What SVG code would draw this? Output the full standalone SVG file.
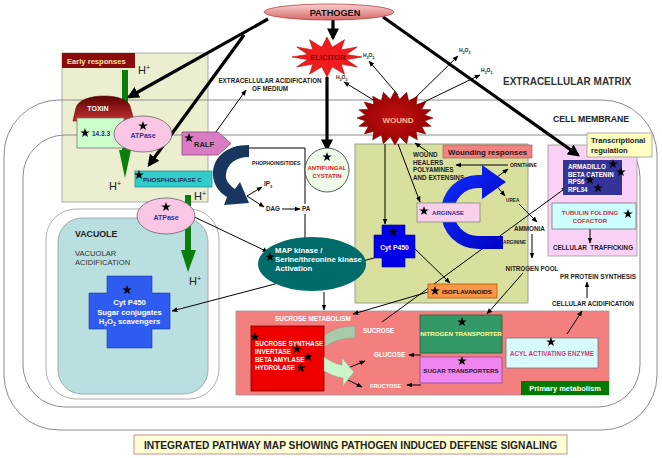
<svg xmlns="http://www.w3.org/2000/svg" width="662" height="458" viewBox="0 0 662 458">
<defs>
<style>
text{font-family:"Liberation Sans",Arial,sans-serif;}
.s6{font-size:6.3px;font-weight:bold;fill:#222;}
.s5{font-size:5px;font-weight:bold;fill:#222;}
.mem{fill:none;stroke:#8c8c8c;stroke-width:1;}
.ln{stroke:#000;stroke-width:1;fill:none;marker-end:url(#a);}
.tk{stroke:#000;stroke-width:3.2;fill:none;marker-end:url(#A);}
.bx{stroke:#777;stroke-width:0.8;}
.hp{font-size:11px;fill:#222;}
.st{fill:#000;}
</style>
<marker id="a" viewBox="0 0 10 10" refX="9" refY="5" markerWidth="6" markerHeight="6" markerUnits="userSpaceOnUse" orient="auto"><path d="M0,1 L10,5 L0,9 Z" fill="#000"/></marker>
<marker id="A" viewBox="0 0 10 10" refX="8" refY="5" markerWidth="12" markerHeight="12" markerUnits="userSpaceOnUse" orient="auto"><path d="M0,0 L10,5 L0,10 Z" fill="#000"/></marker>
<path id="star" d="M0,-5 L1.18,-1.62 L4.76,-1.55 L1.9,0.62 L2.94,4.05 L0,2 L-2.94,4.05 L-1.9,0.62 L-4.76,-1.55 L-1.18,-1.62Z"/>
<linearGradient id="gPath" x1="0" y1="0" x2="0" y2="1"><stop offset="0" stop-color="#fbd0d0"/><stop offset="1" stop-color="#d86868"/></linearGradient>
<linearGradient id="gTox" x1="0" y1="0" x2="0" y2="1"><stop offset="0" stop-color="#5a0000"/><stop offset="1" stop-color="#c83232"/></linearGradient>
<radialGradient id="gWound"><stop offset="0" stop-color="#c41212"/><stop offset="1" stop-color="#960000"/></radialGradient>
<linearGradient id="gBlue" x1="0" y1="0" x2="1" y2="1"><stop offset="0" stop-color="#1030ff"/><stop offset="1" stop-color="#0000c0"/></linearGradient>
</defs>
<rect width="662" height="458" fill="#fff"/>

<!-- backgrounds -->
<g id="early-responses-panel">
<rect x="62" y="53" width="146" height="149" fill="#ecefcf" stroke="#999" stroke-width="0.8"/>
<rect x="62" y="53" width="73" height="15" fill="#8b0a0a"/>
<text x="67" y="63.5" font-size="7.6" font-weight="bold" fill="#ffe2b0">Early responses</text>
</g>
<g id="membranes">
<rect class="mem" x="4" y="100" width="653" height="330" rx="55"/>
<rect class="mem" x="23" y="135" width="617" height="272" rx="42"/>
<text x="503" y="85" font-size="10" font-weight="bold" fill="#333">EXTRACELLULAR MATRIX</text>
<text x="553" y="121.5" font-size="8.7" font-weight="bold" fill="#222">CELL MEMBRANE</text>
</g>
<g id="vacuole">
<rect x="46" y="209" width="173" height="190" rx="30" fill="#fff" stroke="#999" stroke-width="0.8"/>
<rect x="58" y="218" width="150" height="176" rx="24" fill="#b9dfe0" stroke="#999" stroke-width="0.8"/>
<text x="75" y="237" font-size="8.8" font-weight="bold" fill="#222">VACUOLE</text>
<text x="75" y="256" font-size="7.6" fill="#333">VACUOLAR</text>
<text x="75" y="265" font-size="7.6" fill="#333">ACIDIFICATION</text>
</g>
<g id="wound-panel">
<rect x="355" y="144" width="173" height="159" fill="#d9df9c" stroke="#888" stroke-width="0.8"/>
<rect x="443" y="145" width="89" height="13" fill="#f38181" stroke="#a05050" stroke-width="0.6"/>
<text x="487.5" y="154.5" font-size="7.8" font-weight="bold" fill="#1a1a1a" text-anchor="middle">Wounding responses</text>
</g>
<g id="transcription-panel">
<rect x="548" y="145" width="89" height="111" fill="#f9d2f6" stroke="#999" stroke-width="0.8"/>
</g>
<g id="primary-metabolism-panel">
<rect x="236" y="311" width="373" height="84" fill="#f47f7f" stroke="#999" stroke-width="0.8"/>
<rect x="521" y="381" width="88" height="14" fill="#007a00"/>
<text x="565" y="391" font-size="7.5" font-weight="bold" fill="#fff" text-anchor="middle">Primary metabolism</text>
<text x="275" y="321" font-size="6.4" font-weight="bold" fill="#fff">SUCROSE METABOLISM</text>
</g>

<!-- H+ green arrows (under nodes) -->
<g id="proton-flux-1">
<path d="M122,70 L128,70 L128,150 L131,150 L125,178 L119,150 L122,150 Z" fill="#0b7d0b"/>
<text class="hp" x="138" y="74">H<tspan font-size="7" dy="-4">+</tspan></text>
<text class="hp" x="109" y="190">H<tspan font-size="7" dy="-4">+</tspan></text>
</g>
<g id="proton-flux-2">
<path d="M185,195 L191,195 L191,250 L196,250 L188,272 L181,250 L185,250 Z" fill="#0b7d0b"/>
<text class="hp" x="194" y="200">H<tspan font-size="7" dy="-4">+</tspan></text>
<text class="hp" x="189" y="285">H<tspan font-size="7" dy="-4">+</tspan></text>
</g>

<!-- connectors -->
<g id="connectors">
<line class="tk" x1="268" y1="19" x2="129" y2="97"/>
<line class="tk" x1="244" y1="35" x2="149" y2="165"/>
<line class="tk" x1="333" y1="20" x2="333" y2="38"/>
<line class="tk" x1="383" y1="17" x2="578" y2="155"/>
<line class="tk" x1="327" y1="77" x2="327" y2="149"/>
<line class="ln" x1="213" y1="136" x2="246" y2="90"/>
<polyline class="ln" points="305,204 305,148 233,148"/>
<line class="ln" x1="305" y1="214" x2="305" y2="245"/>
<line class="ln" x1="282" y1="209" x2="300" y2="209"/>
<line class="ln" x1="247" y1="196" x2="262" y2="187"/>
<line class="ln" x1="247" y1="196" x2="264" y2="207"/>
<line class="ln" x1="186" y1="213" x2="268" y2="252"/>
<line class="ln" x1="324" y1="292" x2="324" y2="310"/>
<line class="ln" x1="374" y1="258" x2="172" y2="311"/>
<line class="ln" x1="375" y1="101" x2="344" y2="82"/>
<line class="ln" x1="398" y1="95" x2="369" y2="61"/>
<line class="ln" x1="413" y1="100" x2="458" y2="56"/>
<line class="ln" x1="420" y1="104" x2="480" y2="75"/>
<line class="ln" x1="385" y1="144" x2="385" y2="224"/>
<line class="ln" x1="398" y1="144" x2="420" y2="202"/>
<line class="ln" x1="428" y1="152" x2="415" y2="143"/>
<line class="ln" x1="508" y1="165" x2="456" y2="165"/>
<line class="ln" x1="493" y1="180" x2="508" y2="169"/>
<line class="ln" x1="495" y1="184" x2="505" y2="196"/>
<line class="ln" x1="519" y1="204" x2="537" y2="222"/>
<line class="ln" x1="532" y1="234" x2="532" y2="258"/>
<line class="ln" x1="413" y1="247" x2="450" y2="283"/>
<line class="ln" x1="428" y1="292" x2="353" y2="314"/>
<line class="ln" x1="382" y1="322" x2="567" y2="187"/>
<line class="ln" x1="523" y1="273" x2="487" y2="314"/>
<line class="ln" x1="590" y1="229" x2="590" y2="243"/>
<line class="ln" x1="587" y1="298" x2="587" y2="282"/>
<line class="ln" x1="567" y1="334" x2="582" y2="311"/>
<line class="ln" x1="421" y1="355" x2="409" y2="355"/>
<line class="ln" x1="421" y1="385" x2="407" y2="385"/>
<line class="ln" x1="348" y1="368" x2="365" y2="361"/>
<line class="ln" x1="348" y1="380" x2="362" y2="387"/>
</g>

<!-- nodes -->
<g id="pathogen">
<ellipse cx="329" cy="12" rx="65" ry="8" fill="url(#gPath)" stroke="#b04848" stroke-width="0.8"/>
<text x="335" y="15.5" font-size="9.2" font-weight="bold" fill="#111" text-anchor="middle">PATHOGEN</text>
</g>
<g id="elicitor">
<polygon points="362,57 346.3,59.6 357.3,67 341.1,64.1 344.5,74.3 332.2,66.7 327,77 321.8,66.7 309.5,74.3 312.9,64.1 296.7,67 307.7,59.6 292,57 307.7,54.4 296.7,47 312.9,49.9 309.5,39.7 321.8,47.3 327,37 332.2,47.3 344.5,39.7 341.1,49.9 357.3,47 346.3,54.4" fill="#ee1c1c" stroke="#c00000" stroke-width="0.6"/>
<text x="328" y="60" font-size="7.7" font-weight="bold" fill="#7a0000" text-anchor="middle">ELICITOR</text>
</g>
<g id="wound">
<polygon points="433,118 424.6,121 431.1,126.3 421.7,126.6 425.7,133.9 416.2,131.4 417.3,139.8 408.6,134.9 406.7,143.7 399.7,136.8 395,145 390.3,136.8 383.3,143.7 381.4,134.9 372.7,139.8 373.8,131.4 364.3,133.9 368.3,126.6 358.9,126.3 365.4,121 357,118 365.4,115 358.9,109.7 368.3,109.4 364.3,102.1 373.8,104.6 372.7,96.2 381.4,101.1 383.3,92.3 390.3,99.2 395,91 399.7,99.2 406.7,92.3 408.6,101.1 417.3,96.2 416.2,104.6 425.7,102.1 421.7,109.4 431.1,109.7 424.6,115" fill="url(#gWound)" stroke="#800000" stroke-width="0.6"/>
<text x="398" y="123" font-size="8" font-weight="bold" fill="#ffb888" text-anchor="middle">WOUND</text>
</g>
<g id="h2o2-labels">
<text class="s5" x="336" y="79">H<tspan font-size="3.5" dy="1.5">2</tspan><tspan dy="-1.5">O</tspan><tspan font-size="3.5" dy="1.5">2</tspan></text>
<text class="s5" x="363" y="57">H<tspan font-size="3.5" dy="1.5">2</tspan><tspan dy="-1.5">O</tspan><tspan font-size="3.5" dy="1.5">2</tspan></text>
<text class="s5" x="459" y="52">H<tspan font-size="3.5" dy="1.5">2</tspan><tspan dy="-1.5">O</tspan><tspan font-size="3.5" dy="1.5">2</tspan></text>
<text class="s5" x="481" y="72">H<tspan font-size="3.5" dy="1.5">2</tspan><tspan dy="-1.5">O</tspan><tspan font-size="3.5" dy="1.5">2</tspan></text>
</g>
<g id="extracellular-acidification">
<text class="s6" x="270" y="83" text-anchor="middle">EXTRACELLULAR ACIDIFICATION</text>
<text class="s6" x="270" y="91" text-anchor="middle">OF MEDIUM</text>
</g>
<g id="toxin">
<path d="M73,121 L76,108 C78,100 90,96 104,96 C118,96 128,100 130,106 L134,121 Z" fill="url(#gTox)" stroke="#5a0000" stroke-width="0.6"/>
<text x="98" y="110.5" font-size="7" font-weight="bold" fill="#fff" text-anchor="middle">TOXIN</text>
</g>
<g id="p14-3-3">
<rect x="77" y="118" width="47" height="30" fill="#ccffcc" class="bx"/>
<use href="#star" x="85" y="133" class="st"/>
<text x="101" y="136" font-size="6.5" font-weight="bold" fill="#2a2a9a" text-anchor="middle">14.3.3</text>
</g>
<g id="atpase-1">
<ellipse cx="143" cy="134" rx="29" ry="18" fill="#f9c6e6" stroke="#666" stroke-width="0.8"/>
<use href="#star" x="143" y="126" class="st"/>
<text x="143" y="138" font-size="7" font-weight="bold" fill="#3030a0" text-anchor="middle">ATPase</text>
</g>
<g id="ralf">
<path d="M182,132 L218,132 L231,143.5 L218,155 L182,155 Z" fill="#d97cc4" stroke="#8a4a7a" stroke-width="0.8"/>
<use href="#star" x="189" y="138" class="st"/>
<text x="204" y="147" font-size="7.5" font-weight="bold" fill="#222" text-anchor="middle">RALF</text>
</g>
<g id="phospholipase-c">
<rect x="135" y="171" width="77" height="16" fill="#33cccc" stroke="#2a8f8f" stroke-width="0.8"/>
<use href="#star" x="139" y="175" class="st"/>
<text x="143" y="181.5" font-size="6.2" font-weight="bold" fill="#23305a">PHOSPHOLIPASE C</text>
</g>
<g id="atpase-2">
<ellipse cx="166" cy="216" rx="29" ry="18" fill="#f9c6e6" stroke="#666" stroke-width="0.8"/>
<use href="#star" x="166" y="207" class="st"/>
<text x="166" y="220" font-size="7" font-weight="bold" fill="#3030a0" text-anchor="middle">ATPase</text>
</g>
<g id="phosphoinositide-cycle">
<path d="M249,145 C226,145 212,158 213,176 C214,186 220,193 227,197 L224,205 L249,203 L240,182 L235,189 C229,185 225,180 226,174 C227,164 236,157 249,157 Z" fill="#17375e"/>
<text x="252" y="165" font-size="5.1" font-weight="bold" fill="#222">PHOPHOINISITIDES</text>
<text x="264" y="186" font-size="6.3" font-weight="bold" fill="#222">IP<tspan font-size="4" dy="1.5">3</tspan></text>
<text class="s6" x="266" y="211">DAG</text>
<text class="s6" x="302" y="211">PA</text>
</g>
<g id="antifungal-cystatin">
<circle cx="327" cy="170" r="22" fill="#eefbe8" stroke="#333" stroke-width="0.8"/>
<use href="#star" x="327" y="157" class="st"/>
<text x="327" y="170" font-size="6" font-weight="bold" fill="#e02020" text-anchor="middle">ANTIFUNGAL</text>
<text x="327" y="178" font-size="6" font-weight="bold" fill="#e02020" text-anchor="middle">CYSTATIN</text>
</g>
<g id="map-kinase">
<ellipse cx="312" cy="264" rx="54" ry="27" fill="#006b6b"/>
<use href="#star" x="270" y="257" class="st"/>
<text x="275" y="253" font-size="7.7" font-weight="bold" fill="#fff">MAP kinase /</text>
<text x="275" y="262" font-size="7.7" font-weight="bold" fill="#fff">Serine/threonine kinase</text>
<text x="275" y="271" font-size="7.7" font-weight="bold" fill="#fff">Activation</text>
</g>
<g id="vacuole-cyt-p450">
<path d="M107,276 L152,276 L152,293 L170,293 L170,329 L152,329 L152,348 L107,348 L107,329 L89,329 L89,293 L107,293 Z" fill="#2e5cf0" stroke="#1a3aa0" stroke-width="0.6"/>
<use href="#star" x="127" y="290" class="st"/>
<text x="129.5" y="305" font-size="7.7" font-weight="bold" fill="#fff" text-anchor="middle">Cyt P450</text>
<text x="129.5" y="314.5" font-size="7.7" font-weight="bold" fill="#fff" text-anchor="middle">Sugar conjugates</text>
<text x="129.5" y="323.5" font-size="7.7" font-weight="bold" fill="#fff" text-anchor="middle">H<tspan font-size="5" dy="2">2</tspan><tspan dy="-2">O</tspan><tspan font-size="5" dy="2">2</tspan><tspan dy="-2"> scavengers</tspan></text>
</g>
<g id="wound-healers">
<text class="s6" x="413" y="157">WOUND</text>
<text class="s6" x="413" y="164.5">HEALERS</text>
<text class="s6" x="413" y="172">POLYAMINES</text>
<text class="s6" x="413" y="179.5">AND EXTENSINS</text>
</g>
<g id="arginine-cycle">
<path d="M503,236 L503,249 L478,249 A37,37 0 0 1 478,175 L482,175 L482,165 L506,182 L482,199 L482,188 L478,188 A24,24 0 0 0 478,236 Z" fill="url(#gBlue)"/>
<text x="510" y="167" font-size="4.9" font-weight="bold" fill="#222">ORNITHINE</text>
<text x="506" y="202" font-size="4.7" font-weight="bold" fill="#222">UREA</text>
<text x="514" y="230.5" class="s6">AMMONIA</text>
<text x="503" y="244" font-size="4.7" font-weight="bold" fill="#222">ARGININE</text>
<text x="532" y="271" class="s6" text-anchor="middle">NITROGEN POOL</text>
</g>
<g id="arginase">
<rect x="417" y="203" width="63" height="19" fill="#f9d0ec" stroke="#888" stroke-width="0.8"/>
<use href="#star" x="424" y="211" class="st"/>
<text x="432" y="215" font-size="6.1" font-weight="bold" fill="#3030a0">ARGINASE</text>
</g>
<g id="wound-cyt-p450">
<path d="M382,225 L405,225 L405,235 L415,235 L415,258 L405,258 L405,267 L382,267 L382,258 L374,258 L374,235 L382,235 Z" fill="#0000e6" stroke="#0000a0" stroke-width="0.6"/>
<use href="#star" x="393" y="232" class="st"/>
<text x="394.5" y="250" font-size="6.8" font-weight="bold" fill="#fff" text-anchor="middle">Cyt P450</text>
</g>
<g id="isoflavanoids">
<rect x="428" y="284" width="69" height="14" fill="#f79646" stroke="#b05a10" stroke-width="0.8"/>
<use href="#star" x="435" y="291" class="st"/>
<text x="442" y="293.5" font-size="6.2" font-weight="bold" fill="#111">ISOFLAVANOIDS</text>
</g>
<g id="transcriptional-regulation">
<rect x="587" y="133" width="65" height="24" fill="#ffffc0" stroke="#999" stroke-width="0.8"/>
<text x="591" y="143" font-size="7.6" font-weight="bold" fill="#222">Transcriptional</text>
<text x="591" y="152.5" font-size="7.6" font-weight="bold" fill="#222">regulation</text>
</g>
<g id="armadillo">
<rect x="563" y="160" width="59" height="35" fill="#333399"/>
<text x="568" y="169" font-size="6.3" font-weight="bold" fill="#fff">ARMADILLO</text>
<text x="568" y="176.5" font-size="6.3" font-weight="bold" fill="#fff">BETA CATENIN</text>
<text x="568" y="184" font-size="6.3" font-weight="bold" fill="#fff">RPS6</text>
<text x="568" y="191.5" font-size="6.3" font-weight="bold" fill="#fff">RPL34</text>
<use href="#star" x="613" y="164" class="st"/>
<use href="#star" x="621" y="172" class="st"/>
<use href="#star" x="590" y="180" class="st"/>
<use href="#star" x="598" y="188" class="st"/>
</g>
<g id="tubulin-folding-cofactor">
<rect x="552" y="203" width="84" height="26" fill="#ccffff" stroke="#777" stroke-width="0.8"/>
<text x="590" y="214.5" font-size="6.2" font-weight="bold" fill="#cc3333" text-anchor="middle">TUBULIN FOLDING</text>
<text x="590" y="222.5" font-size="6.2" font-weight="bold" fill="#cc3333" text-anchor="middle">COFACTOR</text>
<use href="#star" x="628" y="214" class="st"/>
</g>
<g id="cellular-labels">
<text class="s6" x="593" y="249.5" text-anchor="middle" xml:space="preserve">CELLULAR  TRAFFICKING</text>
<text class="s6" x="598" y="279" text-anchor="middle">PR PROTEIN SYNTHESIS</text>
<text class="s6" x="593" y="306" text-anchor="middle">CELLULAR ACIDIFICATION</text>
</g>
<g id="sucrose-enzymes">
<rect x="251" y="326" width="73" height="65" fill="#ee0000" stroke="#800000" stroke-width="0.8"/>
<text x="255" y="345.5" font-size="6.4" font-weight="bold" fill="#fff">SUCROSE SYNTHASE</text>
<text x="255" y="353.5" font-size="6.4" font-weight="bold" fill="#fff">INVERTASE</text>
<text x="255" y="361.5" font-size="6.4" font-weight="bold" fill="#fff">BETA AMYLASE</text>
<text x="255" y="369.5" font-size="6.4" font-weight="bold" fill="#fff">HYDROLASE</text>
<use href="#star" x="255" y="337" class="st"/>
<use href="#star" x="297" y="349" class="st"/>
<use href="#star" x="308" y="357" class="st"/>
<use href="#star" x="301" y="368" class="st"/>
</g>
<g id="sugar-flow">
<path d="M355,326 L355,338 C343,338 333,341 325,347 L325,335 C333,329 343,326 355,326 Z" fill="#a8caa8" stroke="#889988" stroke-width="0.5"/>
<path d="M324,357 C332,362 336,364 342,365 L342,358 L354,372 L343,386 L343,378 C335,377 330,374 324,371 Z" fill="#ccf5cc" stroke="#889988" stroke-width="0.5"/>
<text x="363" y="333" font-size="6.3" font-weight="bold" fill="#fff">SUCROSE</text>
<text x="374" y="356.5" font-size="6.3" font-weight="bold" fill="#fff">GLUCOSE</text>
<text x="370" y="388" font-size="5.7" font-weight="bold" fill="#fff">FRUCTOSE</text>
</g>
<g id="nitrogen-transporter">
<rect x="420" y="315" width="82" height="38" fill="#339966" stroke="#1e5f3e" stroke-width="0.8"/>
<use href="#star" x="462" y="322" class="st"/>
<text x="461" y="336" font-size="6.2" font-weight="bold" fill="#ffff99" text-anchor="middle">NITROGEN TRANSPORTER</text>
</g>
<g id="sugar-transporters">
<rect x="420" y="357" width="82" height="26" fill="#f086f0" stroke="#8a4a8a" stroke-width="0.8"/>
<use href="#star" x="462" y="361" class="st"/>
<text x="461" y="373" font-size="6.2" font-weight="bold" fill="#222" text-anchor="middle">SUGAR TRANSPORTERS</text>
</g>
<g id="acyl-activating-enzyme">
<rect x="506" y="338" width="92" height="30" fill="#d8fafc" stroke="#777" stroke-width="0.8"/>
<use href="#star" x="551" y="342" class="st"/>
<text x="552" y="355.5" font-size="6.3" font-weight="bold" fill="#d63a7a" text-anchor="middle">ACYL ACTIVATING ENZYME</text>
</g>
<g id="title">
<rect x="134" y="435" width="433" height="19" fill="#ffffd6" stroke="#c89090" stroke-width="1"/>
<text x="350.5" y="449" font-size="10.2" font-weight="bold" fill="#222" text-anchor="middle">INTEGRATED PATHWAY MAP SHOWING PATHOGEN INDUCED DEFENSE SIGNALING</text>
</g>
</svg>
